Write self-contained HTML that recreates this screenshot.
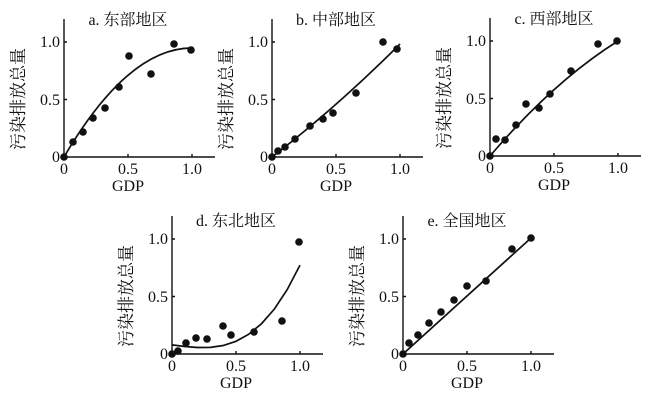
<!DOCTYPE html><html><head><meta charset="utf-8"><style>body{margin:0;background:#fff}svg{display:block}text{font-family:"Liberation Serif","Noto Serif CJK SC",serif;fill:#111}</style></head><body>
<svg width="657" height="401" viewBox="0 0 657 401">
<defs>
<g id="ax">
<path d="M0,-138V0H151M64,0v-3M128,0v-3M0,-57.5h3M0,-115h3" stroke="#111" stroke-width="1.4" fill="none"/>
<text x="-4" y="5" font-size="16" text-anchor="end">0</text>
<text x="-4" y="-52" font-size="16" text-anchor="end">0.5</text>
<text x="-4" y="-110" font-size="16" text-anchor="end">1.0</text>
<text x="0" y="17" font-size="16" text-anchor="middle">0</text>
<text x="64" y="17" font-size="16" text-anchor="middle">0.5</text>
<text x="128" y="17" font-size="16" text-anchor="middle">1.0</text>
<text x="64" y="34" font-size="16" text-anchor="middle">GDP</text>
<text transform="translate(-40,-58) rotate(-90)" font-size="17" text-anchor="middle" style="font-family:'Noto Serif CJK SC',serif">污染排放总量</text>
</g>
</defs>
<g transform="translate(64,157)"><use href="#ax"/>
<text x="64" y="-132" font-size="16" text-anchor="middle">a. 东部地区</text>
<path d="M0,0Q64,-109 128,-109" stroke="#111" stroke-width="1.7" fill="none"/>
<g fill="#111"><circle cx="0" cy="0" r="3.8"/><circle cx="9" cy="-15" r="3.8"/><circle cx="19" cy="-25" r="3.8"/><circle cx="29" cy="-39" r="3.8"/><circle cx="41" cy="-49" r="3.8"/><circle cx="55" cy="-70" r="3.8"/><circle cx="65" cy="-101" r="3.8"/><circle cx="87" cy="-83" r="3.8"/><circle cx="110" cy="-113" r="3.8"/><circle cx="127" cy="-107" r="3.8"/></g></g>
<g transform="translate(272,157)"><use href="#ax"/>
<text x="64" y="-132" font-size="16" text-anchor="middle">b. 中部地区</text>
<path d="M0,0Q64,-49 128,-113" stroke="#111" stroke-width="1.7" fill="none"/>
<g fill="#111"><circle cx="0" cy="0" r="3.8"/><circle cx="6" cy="-6" r="3.8"/><circle cx="13" cy="-10" r="3.8"/><circle cx="23" cy="-18" r="3.8"/><circle cx="38" cy="-31" r="3.8"/><circle cx="51" cy="-38" r="3.8"/><circle cx="61" cy="-44" r="3.8"/><circle cx="84" cy="-64" r="3.8"/><circle cx="111" cy="-115" r="3.8"/><circle cx="125" cy="-108" r="3.8"/></g></g>
<g transform="translate(490,156)"><use href="#ax"/>
<text x="64" y="-132" font-size="16" text-anchor="middle">c. 西部地区</text>
<path d="M0,0Q64,-75 128,-115" stroke="#111" stroke-width="1.7" fill="none"/>
<g fill="#111"><circle cx="0" cy="0" r="3.8"/><circle cx="6" cy="-17" r="3.8"/><circle cx="15" cy="-16" r="3.8"/><circle cx="26" cy="-31" r="3.8"/><circle cx="36" cy="-52" r="3.8"/><circle cx="49" cy="-48" r="3.8"/><circle cx="60" cy="-62" r="3.8"/><circle cx="81" cy="-85" r="3.8"/><circle cx="108" cy="-112" r="3.8"/><circle cx="127" cy="-115" r="3.8"/></g></g>
<g transform="translate(172,354)"><use href="#ax"/>
<text x="64" y="-128" font-size="16" text-anchor="middle">d. 东北地区</text>
<polyline points="0,-9.1 12.8,-7.5 25.6,-6.5 38.4,-6.6 51.2,-8.5 64,-12.7 76.8,-19.8 89.6,-30.4 102.4,-45 115.2,-64.4 128,-88.9" stroke="#111" stroke-width="1.7" fill="none"/>
<g fill="#111"><circle cx="0" cy="0" r="3.8"/><circle cx="6" cy="-3" r="3.8"/><circle cx="14" cy="-11" r="3.8"/><circle cx="24" cy="-16" r="3.8"/><circle cx="35" cy="-15" r="3.8"/><circle cx="51" cy="-28" r="3.8"/><circle cx="59" cy="-19" r="3.8"/><circle cx="82" cy="-22" r="3.8"/><circle cx="110" cy="-33" r="3.8"/><circle cx="127" cy="-112" r="3.8"/></g></g>
<g transform="translate(403,354)"><use href="#ax"/>
<text x="64" y="-128" font-size="16" text-anchor="middle">e. 全国地区</text>
<path d="M0,0L128,-116" stroke="#111" stroke-width="1.7" fill="none"/>
<g fill="#111"><circle cx="0" cy="0" r="3.8"/><circle cx="6" cy="-11" r="3.8"/><circle cx="15" cy="-19" r="3.8"/><circle cx="26" cy="-31" r="3.8"/><circle cx="38" cy="-42" r="3.8"/><circle cx="51" cy="-54" r="3.8"/><circle cx="64" cy="-68" r="3.8"/><circle cx="83" cy="-73" r="3.8"/><circle cx="109" cy="-105" r="3.8"/><circle cx="128" cy="-116" r="3.8"/></g></g>
</svg></body></html>
